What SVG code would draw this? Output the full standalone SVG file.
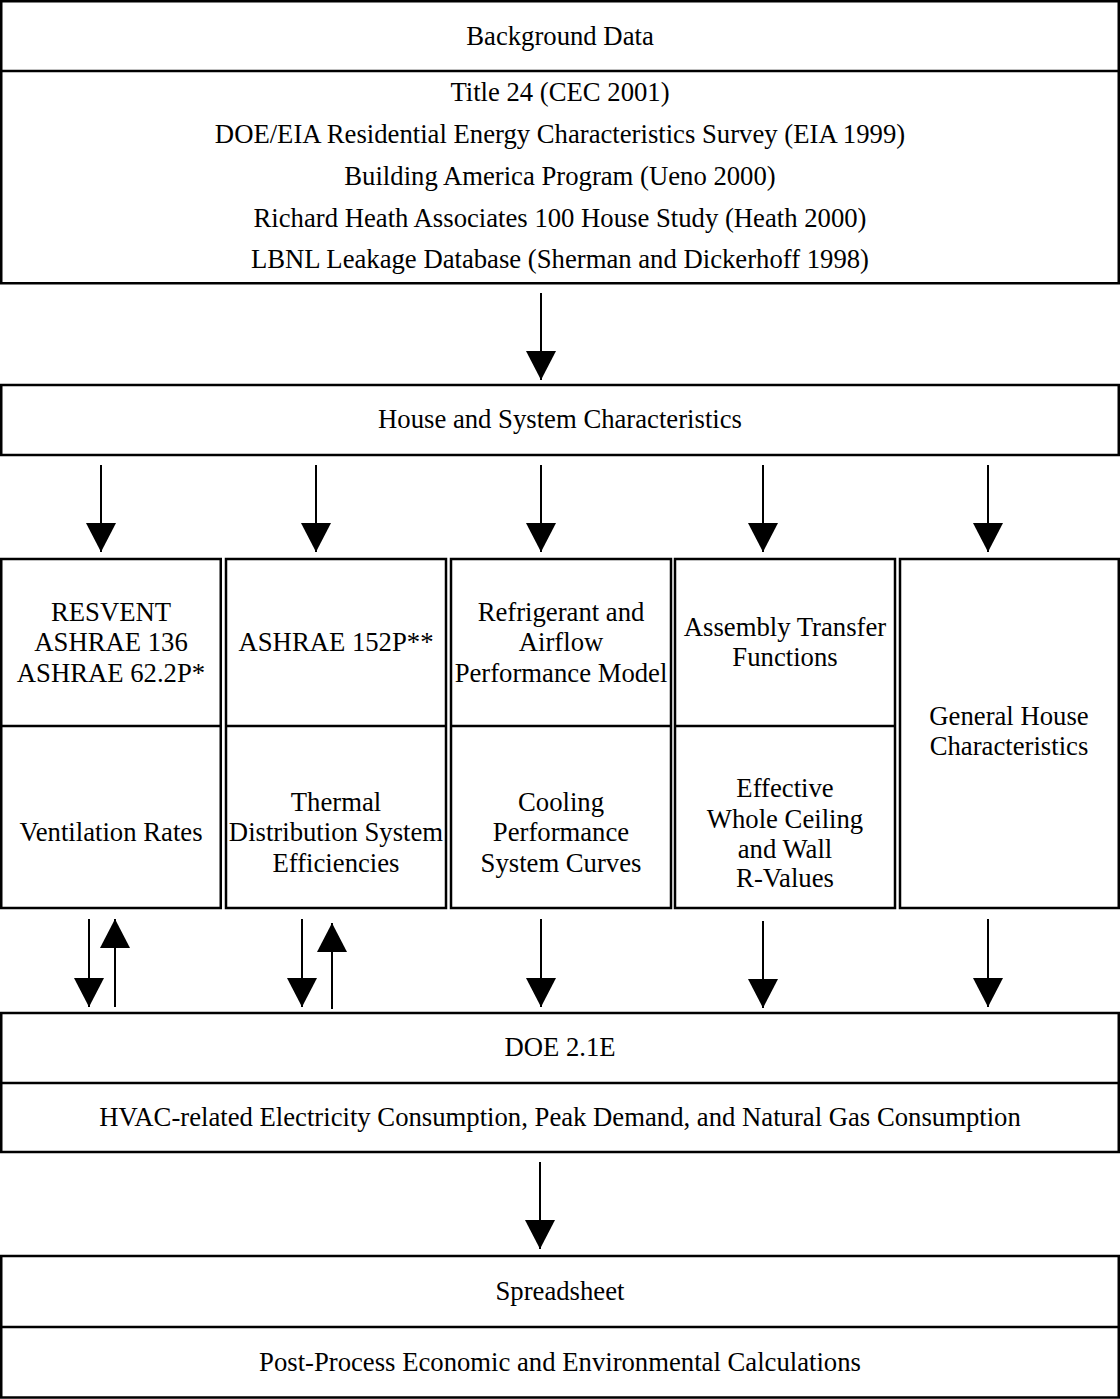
<svg xmlns="http://www.w3.org/2000/svg" width="1120" height="1399" viewBox="0 0 1120 1399">
<style>
.box{fill:#fff;stroke:#000;stroke-width:2.5}
.div{stroke:#000;stroke-width:2.5}
text{font-family:"Liberation Serif","Times New Roman",serif;font-size:26.7px;fill:#000;text-anchor:middle}
.con{stroke:#000;stroke-width:2;fill:none;marker-end:url(#ah)}
</style>
<defs>
<marker id="ah" markerUnits="userSpaceOnUse" markerWidth="30" markerHeight="30" viewBox="0 0 29 30" refX="29" refY="15" orient="auto">
<path d="M0,0 L29,15 L0,30 z" fill="#000"/>
</marker>
</defs>
<rect width="1120" height="1399" fill="#fff"/>
<g id="background">
<rect class="box" x="1.25" y="1.25" width="1117.5" height="282"/>
<line class="div" x1="1" y1="71" x2="1119" y2="71"/>
<text x="560" y="45">Background Data</text>
<text x="560" y="101">Title 24 (CEC 2001)</text>
<text x="560" y="143">DOE/EIA Residential Energy Characteristics Survey (EIA 1999)</text>
<text x="560" y="185">Building America Program (Ueno 2000)</text>
<text x="560" y="227">Richard Heath Associates 100 House Study (Heath 2000)</text>
<text x="560" y="268">LBNL Leakage Database (Sherman and Dickerhoff 1998)</text>
</g>
<g id="house">
<rect class="box" x="1.25" y="385" width="1117.5" height="70"/>
<text x="560" y="428">House and System Characteristics</text>
</g>
<g id="col1">
<rect class="box" x="1.25" y="559" width="219.5" height="349"/>
<line class="div" x1="1" y1="726" x2="221" y2="726"/>
<text x="111" y="621">RESVENT</text>
<text x="111" y="651">ASHRAE 136</text>
<text x="111" y="682">ASHRAE 62.2P*</text>
<text x="111" y="841">Ventilation Rates</text>
</g>
<g id="col2">
<rect class="box" x="226" y="559" width="220" height="349"/>
<line class="div" x1="226" y1="726" x2="446" y2="726"/>
<text x="336" y="651">ASHRAE 152P**</text>
<text x="336" y="811">Thermal</text>
<text x="336" y="841">Distribution System</text>
<text x="336" y="872">Efficiencies</text>
</g>
<g id="col3">
<rect class="box" x="451" y="559" width="220" height="349"/>
<line class="div" x1="451" y1="726" x2="671" y2="726"/>
<text x="561" y="621">Refrigerant and</text>
<text x="561" y="651">Airflow</text>
<text x="561" y="682">Performance Model</text>
<text x="561" y="811">Cooling</text>
<text x="561" y="841">Performance</text>
<text x="561" y="872">System Curves</text>
</g>
<g id="col4">
<rect class="box" x="675" y="559" width="220" height="349"/>
<line class="div" x1="675" y1="726" x2="895" y2="726"/>
<text x="785" y="636">Assembly Transfer</text>
<text x="785" y="666">Functions</text>
<text x="785" y="797">Effective</text>
<text x="785" y="828">Whole Ceiling</text>
<text x="785" y="858">and Wall</text>
<text x="785" y="887">R-Values</text>
</g>
<g id="col5">
<rect class="box" x="900" y="559" width="218.75" height="349"/>
<text x="1009" y="725">General House</text>
<text x="1009" y="755">Characteristics</text>
</g>
<g id="doe">
<rect class="box" x="1.25" y="1013" width="1117.5" height="139"/>
<line class="div" x1="1" y1="1083" x2="1119" y2="1083"/>
<text x="560" y="1056">DOE 2.1E</text>
<text x="560" y="1126">HVAC-related Electricity Consumption, Peak Demand, and Natural Gas Consumption</text>
</g>
<g id="spreadsheet">
<rect class="box" x="1.25" y="1256" width="1117.5" height="141.5"/>
<line class="div" x1="1" y1="1327" x2="1119" y2="1327"/>
<text x="560" y="1300">Spreadsheet</text>
<text x="560" y="1371">Post-Process Economic and Environmental Calculations</text>
</g>
<g id="connectors">
<line class="con" x1="541" y1="293" x2="541" y2="380"/>
<line class="con" x1="101" y1="465" x2="101" y2="552"/>
<line class="con" x1="316" y1="465" x2="316" y2="552"/>
<line class="con" x1="541" y1="465" x2="541" y2="552"/>
<line class="con" x1="763" y1="465" x2="763" y2="552"/>
<line class="con" x1="988" y1="465" x2="988" y2="552"/>
<line class="con" x1="89" y1="919" x2="89" y2="1007"/>
<line class="con" x1="115" y1="1007" x2="115" y2="919"/>
<line class="con" x1="302" y1="919" x2="302" y2="1007"/>
<line class="con" x1="332" y1="1009" x2="332" y2="923"/>
<line class="con" x1="541" y1="919" x2="541" y2="1007"/>
<line class="con" x1="763" y1="921" x2="763" y2="1008"/>
<line class="con" x1="988" y1="919" x2="988" y2="1007"/>
<line class="con" x1="540" y1="1162" x2="540" y2="1249"/>
</g>
</svg>
